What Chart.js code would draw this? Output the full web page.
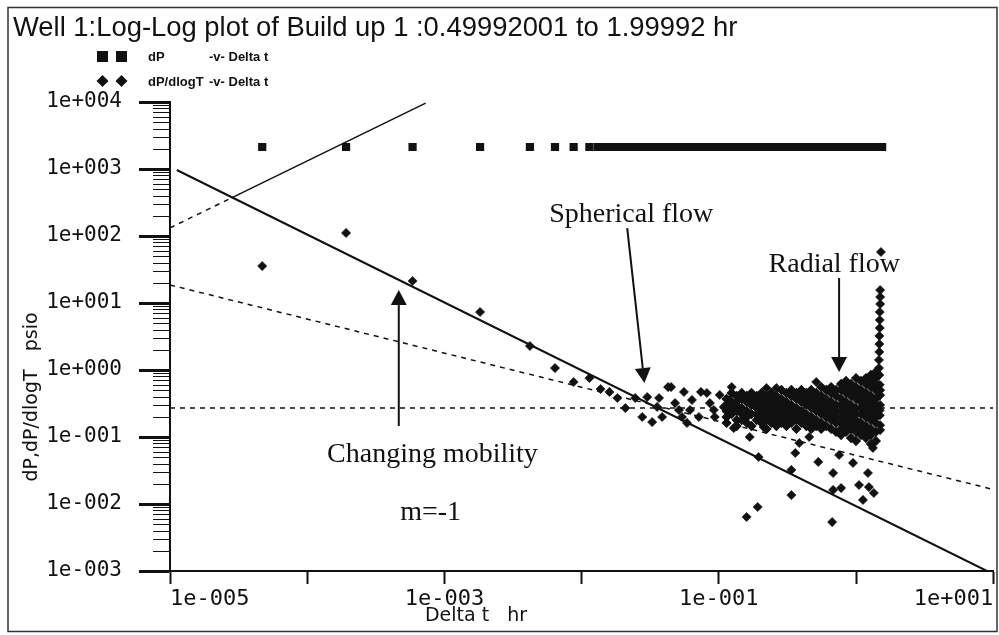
<!DOCTYPE html>
<html>
<head>
<meta charset="utf-8">
<script src="https://cdn.jsdelivr.net/npm/chart.js@4.4.0/dist/chart.umd.min.js"></script>
<style>
  html, body { margin: 0; padding: 0; background: #fff; }
  #wrap { width: 999px; height: 635px; }
</style>
</head>
<body>
<div id="wrap"><canvas id="plot" width="999" height="635"></canvas></div>
<script>
const INK = '#111';

// axis ticks
const xTickValues = [1e-5, 1e-4, 1e-3, 1e-2, 1e-1, 1e0, 1e1];
const xTickLabels = ['1e-005', '', '1e-003', '', '1e-001', '', '1e+001'];
const yTickValues = [1e-3, 1e-2, 1e-1, 1e0, 1e1, 1e2, 1e3, 1e4];
const yTickLabels = ['1e-003', '1e-002', '1e-001', '1e+000', '1e+001', '1e+002', '1e+003', '1e+004'];

// dP -v- Delta t  (psi vs hr)
const dPPoints = [
  [4.7e-5, 2130], [1.92e-4, 2130], [5.86e-4, 2130], [1.82e-3, 2130], [4.2e-3, 2130],
  [6.4e-3, 2130], [8.75e-3, 2130], [0.0114, 2130], [0.0131, 2130], [0.0142, 2130],
  [0.0154, 2130], [0.0168, 2130], [0.0182, 2130], [0.0198, 2130], [0.0215, 2130],
  [0.0234, 2130], [0.0255, 2130], [0.0277, 2130], [0.0301, 2130], [0.0327, 2130],
  [0.0355, 2130], [0.0386, 2130], [0.042, 2130], [0.0457, 2130], [0.0496, 2130],
  [0.054, 2130], [0.0586, 2130], [0.0637, 2130], [0.0693, 2130], [0.0753, 2130],
  [0.0819, 2130], [0.089, 2130], [0.0967, 2130], [0.105, 2130], [0.114, 2130],
  [0.124, 2130], [0.135, 2130], [0.147, 2130], [0.16, 2130], [0.173, 2130],
  [0.189, 2130], [0.205, 2130], [0.223, 2130], [0.242, 2130], [0.263, 2130],
  [0.286, 2130], [0.311, 2130], [0.338, 2130], [0.368, 2130], [0.4, 2130],
  [0.434, 2130], [0.472, 2130], [0.513, 2130], [0.558, 2130], [0.606, 2130],
  [0.659, 2130], [0.716, 2130], [0.779, 2130], [0.846, 2130], [0.92, 2130],
  [1.0, 2130], [1.087, 2130], [1.182, 2130], [1.284, 2130], [1.396, 2130],
  [1.45, 2130], [1.5, 2130], [1.55, 2130]
];

// dP/dlogT -v- Delta t : early and scattered points
const derivPoints = [
  [4.7e-5, 35.6], [1.92e-4, 111], [5.86e-4, 21.3], [1.82e-3, 7.34], [4.2e-3, 2.28],
  [6.4e-3, 1.07], [8.75e-3, 0.662], [0.0114, 0.758], [0.01375, 0.52], [0.01596, 0.47],
  [0.01823, 0.382], [0.02085, 0.27], [0.0246, 0.382], [0.02767, 0.199], [0.03008, 0.395],
  [0.03269, 0.167], [0.03554, 0.281], [0.0367, 0.382], [0.03864, 0.199], [0.0427, 0.557],
  [0.0449, 0.557], [0.048, 0.321], [0.0513, 0.253], [0.0557, 0.47], [0.05395, 0.199],
  [0.05864, 0.162], [0.06374, 0.357], [0.0617, 0.253], [0.0716, 0.199], [0.0741, 0.47],
  [0.08187, 0.454], [0.0861, 0.321], [0.0935, 0.199], [0.092, 0.253], [0.1016, 0.424],
  [0.1087, 0.281], [0.1242, 0.557], [0.1285, 0.136], [0.1203, 0.357], [0.1396, 0.357],
  [0.1517, 0.253], [0.168, 0.1], [0.1824, 0.395], [0.195, 0.0503], [0.212, 0.141],
  [0.2227, 0.539], [0.2632, 0.539], [0.2767, 0.321], [0.2861, 0.167], [0.3381, 0.0322],
  [0.361, 0.0577], [0.3381, 0.0136], [0.386, 0.0813], [0.456, 0.1], [0.5131, 0.662],
  [0.531, 0.0424], [0.681, 0.029], [0.681, 0.0162], [0.7786, 0.0173], [0.753, 0.0539],
  [0.67, 0.00538], [0.951, 0.041], [1.052, 0.0192], [1.222, 0.029], [1.242, 0.0179],
  [1.349, 0.0146], [1.124, 0.0115], [1.328, 0.0687], [1.5, 0.127], [0.1595, 0.0064],
  [0.192, 0.00902]
];

// dP/dlogT : dense radial-flow band, one row per Delta t
const derivBand = [
  [0.114, [0.369, 0.3, 0.244, 0.199, 0.162]],
  [0.124, [0.454, 0.333, 0.27, 0.22]],
  [0.135, [0.409, 0.3, 0.244, 0.179, 0.146]],
  [0.147, [0.454, 0.369, 0.27, 0.22, 0.179]],
  [0.16, [0.409, 0.333, 0.244, 0.199, 0.162]],
  [0.173, [0.454, 0.369, 0.3, 0.22, 0.146]],
  [0.189, [0.409, 0.333, 0.27, 0.22, 0.179]],
  [0.205, [0.454, 0.369, 0.3, 0.244, 0.199, 0.162]],
  [0.223, [0.409, 0.333, 0.27, 0.22, 0.179, 0.132]],
  [0.242, [0.454, 0.369, 0.3, 0.244, 0.199, 0.162]],
  [0.263, [0.409, 0.333, 0.27, 0.22, 0.179, 0.146]],
  [0.286, [0.503, 0.369, 0.3, 0.244, 0.199, 0.162]],
  [0.311, [0.454, 0.333, 0.27, 0.22, 0.179, 0.146]],
  [0.338, [0.503, 0.409, 0.3, 0.244, 0.199, 0.162]],
  [0.368, [0.454, 0.369, 0.27, 0.22, 0.179, 0.132]],
  [0.4, [0.503, 0.409, 0.333, 0.244, 0.199, 0.162]],
  [0.434, [0.454, 0.369, 0.3, 0.22, 0.179, 0.146]],
  [0.472, [0.503, 0.409, 0.333, 0.27, 0.199, 0.162, 0.132]],
  [0.513, [0.454, 0.369, 0.3, 0.244, 0.179, 0.146]],
  [0.558, [0.557, 0.409, 0.333, 0.27, 0.22, 0.162, 0.132]],
  [0.606, [0.503, 0.369, 0.3, 0.244, 0.199, 0.146]],
  [0.659, [0.557, 0.454, 0.333, 0.27, 0.22, 0.179, 0.132]],
  [0.716, [0.503, 0.409, 0.3, 0.244, 0.199, 0.162, 0.119]],
  [0.779, [0.618, 0.503, 0.369, 0.3, 0.244, 0.199, 0.162, 0.132, 0.107]],
  [0.846, [0.685, 0.557, 0.454, 0.333, 0.27, 0.22, 0.179, 0.146, 0.119]],
  [0.92, [0.618, 0.503, 0.409, 0.3, 0.244, 0.199, 0.162, 0.132, 0.0966]],
  [1.0, [0.758, 0.557, 0.454, 0.369, 0.27, 0.22, 0.179, 0.146, 0.119, 0.0871]],
  [1.087, [0.685, 0.503, 0.409, 0.333, 0.27, 0.22, 0.162, 0.132, 0.107]],
  [1.182, [0.758, 0.618, 0.454, 0.369, 0.3, 0.244, 0.199, 0.146, 0.119, 0.0966]],
  [1.284, [0.842, 0.685, 0.557, 0.409, 0.333, 0.27, 0.22, 0.179, 0.132, 0.107, 0.0787]],
  [1.396, [0.933, 0.758, 0.618, 0.503, 0.369, 0.3, 0.244, 0.199, 0.162, 0.119, 0.0871]]
];

// late-time upturn at the end of the build-up
const derivSpike = [
  [1.47, 1.07], [1.47, 1.41], [1.48, 1.86], [1.48, 2.44], [1.48, 3.22], [1.49, 4.24],
  [1.49, 5.58], [1.49, 7.34], [1.5, 9.66], [1.5, 12.3], [1.5, 15.6], [1.52, 57.7],
  [1.48, 0.84], [1.49, 0.6], [1.5, 0.5], [1.5, 0.42], [1.5, 0.3], [1.49, 0.25],
  [1.49, 0.21], [1.5, 0.15]
];

// straight-line fits
const storageDashT = [1e-5, 2.81e-5];
const storageDashV = [132, 371];
const storageT = [2.81e-5, 7.3e-4];
const storageV = [371, 9640];
const mobilityT = [1.12e-5, 9.0];
const mobilityV = [966, 0.001];
const sphericalT = [1e-5, 10];
const sphericalV = [18.6, 0.0165];
const radialT = [1e-5, 10];
const radialV = [0.271, 0.271];

// annotations (data coordinates)
const noteTexts = ['Spherical flow', 'Radial flow', 'Changing mobility', 'm=-1'];
const noteT = [0.023, 0.694, 8.18e-4, 7.93e-4];
const noteV = [162, 29.0, 0.0424, 0.00577];
const arrowFromT = [0.0215, 0.753, 4.65e-4];
const arrowFromV = [131, 23.6, 0.146];
const arrowToT = [0.0287, 0.753, 4.65e-4];
const arrowToV = [0.64, 0.933, 15.6];

const toXY = pairs => pairs.map(([t, v]) => ({ x: t, y: v }));
const zipXY = (ts, vs) => ts.map((t, i) => ({ x: t, y: vs[i] }));

const bandXY = [];
derivBand.forEach(([t, vals]) => vals.forEach(v => bandXY.push({ x: t, y: v })));

function markers(data, style, radius, outline) {
  return {
    data, pointStyle: style, pointRadius: radius, showLine: false,
    backgroundColor: INK, borderColor: INK, borderWidth: outline
  };
}

function lineSet(ts, vs, width, dash) {
  return {
    data: zipXY(ts, vs), showLine: true, pointRadius: 0, borderColor: INK,
    borderWidth: width, borderDash: dash || [], fill: false
  };
}

// y minor ticks 2..9 per decade
const yMinorTicks = [];
for (let d = -3; d < 4; d++) {
  for (let k = 2; k < 10; k++) yMinorTicks.push(k * Math.pow(10, d));
}

function arrow(ctx, x1, y1, x2, y2) {
  const ang = Math.atan2(y2 - y1, x2 - x1);
  const len = 15, half = 8;
  const bx = x2 - len * Math.cos(ang), by = y2 - len * Math.sin(ang);
  ctx.beginPath();
  ctx.moveTo(x1, y1);
  ctx.lineTo(bx, by);
  ctx.stroke();
  ctx.beginPath();
  ctx.moveTo(x2, y2);
  ctx.lineTo(bx + half * Math.sin(ang), by - half * Math.cos(ang));
  ctx.lineTo(bx - half * Math.sin(ang), by + half * Math.cos(ang));
  ctx.closePath();
  ctx.fill();
}

const decor = {
  id: 'decor',
  afterDraw(chart) {
    const { ctx } = chart;
    const x = chart.scales.x, y = chart.scales.y;
    ctx.save();
    ctx.strokeStyle = INK;
    ctx.fillStyle = INK;

    // minor ticks
    ctx.lineWidth = 1;
    yMinorTicks.forEach(v => {
      const py = Math.round(y.getPixelForValue(v)) + 0.5;
      ctx.beginPath();
      ctx.moveTo(x.left - 17, py);
      ctx.lineTo(x.left, py);
      ctx.stroke();
    });

    // annotation arrows
    ctx.lineWidth = 2;
    arrowFromT.forEach((t, i) => {
      arrow(ctx,
        x.getPixelForValue(t), y.getPixelForValue(arrowFromV[i]),
        x.getPixelForValue(arrowToT[i]), y.getPixelForValue(arrowToV[i]));
    });

    // annotation text
    ctx.font = '28px "Liberation Serif", "Times New Roman", serif';
    ctx.textAlign = 'center';
    ctx.textBaseline = 'alphabetic';
    noteTexts.forEach((s, i) => {
      ctx.fillText(s, x.getPixelForValue(noteT[i]), y.getPixelForValue(noteV[i]));
    });

    // title
    ctx.textAlign = 'left';
    ctx.font = '27.4px "Liberation Sans", Arial, sans-serif';
    ctx.fillText('Well 1:Log-Log plot of Build up 1 :0.49992001 to 1.99992 hr', 13, 36);

    // legend
    ctx.fillRect(97, 51, 11, 11);
    ctx.fillRect(116, 51, 11, 11);
    [102.5, 121.5].forEach(cx => {
      ctx.beginPath();
      ctx.moveTo(cx, 75); ctx.lineTo(cx + 6, 81); ctx.lineTo(cx, 87); ctx.lineTo(cx - 6, 81);
      ctx.closePath();
      ctx.fill();
    });
    ctx.font = 'bold 13px "Liberation Sans", Arial, sans-serif';
    ctx.textBaseline = 'middle';
    ctx.fillText('dP', 148, 57);
    ctx.fillText('-v- Delta t', 209, 57);
    ctx.fillText('dP/dlogT', 148, 82);
    ctx.fillText('-v- Delta t', 209, 82);

    // axis titles
    ctx.font = '19px "DejaVu Sans", sans-serif';
    ctx.textAlign = 'center';
    ctx.textBaseline = 'alphabetic';
    ctx.fillText('Delta t   hr', 476, 621);
    ctx.save();
    ctx.translate(37, 397);
    ctx.rotate(-Math.PI / 2);
    ctx.fillText('dP,dP/dlogT   psio', 0, 0);
    ctx.restore();

    // outer frame
    ctx.lineWidth = 1.5;
    ctx.strokeStyle = '#333';
    ctx.strokeRect(8, 7.5, 989, 624);
    ctx.restore();
  }
};

new Chart(document.getElementById('plot'), {
  type: 'scatter',
  data: {
    datasets: [
      markers(toXY(dPPoints), 'rect', 5.8, 0),
      markers(toXY(derivPoints), 'rectRot', 4.6, 0.6),
      // outlined so touching markers merge without light seams
      markers(bandXY, 'rectRot', 4.3, 1.2),
      markers(toXY(derivSpike), 'rectRot', 4.6, 0.6),
      lineSet(mobilityT, mobilityV, 2),
      lineSet(storageT, storageV, 1.5),
      lineSet(storageDashT, storageDashV, 1.5, [5, 5]),
      lineSet(sphericalT, sphericalV, 1.5, [5, 5]),
      lineSet(radialT, radialV, 1.5, [5, 5])
    ]
  },
  options: {
    responsive: false,
    animation: false,
    events: [],
    layout: { padding: { left: 0, top: 102, right: 2, bottom: 0 } },
    plugins: { legend: { display: false }, tooltip: { enabled: false } },
    scales: {
      x: {
        type: 'logarithmic',
        min: 1e-5,
        max: 10,
        afterBuildTicks: s => { s.ticks = xTickValues.map(v => ({ value: v })); },
        afterFit: s => { s.height = 64; },
        grid: { drawOnChartArea: false, tickLength: 13, tickWidth: 2, tickColor: INK },
        border: { display: true, width: 2, color: INK },
        ticks: {
          autoSkip: false, maxRotation: 0, align: 'inner', padding: 2, color: INK,
          font: { family: '"DejaVu Sans Mono", monospace', size: 22 },
          callback: (v, i) => xTickLabels[i]
        }
      },
      y: {
        type: 'logarithmic',
        min: 1e-3,
        max: 1e4,
        afterBuildTicks: s => { s.ticks = yTickValues.map(v => ({ value: v })); },
        afterFit: s => { s.width = 170; },
        grid: { drawOnChartArea: false, tickLength: 31, tickWidth: 3, tickColor: INK },
        border: { display: true, width: 2, color: INK },
        ticks: {
          autoSkip: false, padding: 17, color: INK,
          font: { family: '"DejaVu Sans Mono", monospace', size: 21 },
          callback: (v, i) => yTickLabels[i]
        }
      }
    }
  },
  plugins: [decor]
});
</script>
</body>
</html>
